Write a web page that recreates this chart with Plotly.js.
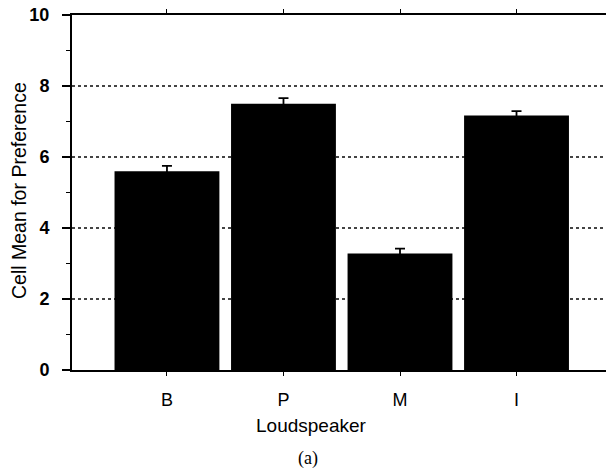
<!DOCTYPE html>
<html>
<head>
<meta charset="utf-8">
<script src="https://cdn.plot.ly/plotly-3.0.1.min.js"></script>
<style>
  html, body { margin: 0; padding: 0; background: #fff; }
  #chart { width: 607px; height: 468px; }
</style>
</head>
<body>
<div id="chart"></div>
<script>
// Loudspeaker preference: cell means with standard-error bars
const speakers = ['B', 'P', 'M', 'I'];
const cellMeans = [5.6, 7.5, 3.28, 7.17];
const stdErrors = [0.15, 0.16, 0.14, 0.12];
const yTickValues = [0, 2, 4, 6, 8, 10];

const trace = {
  type: 'bar',
  x: speakers,
  y: cellMeans,
  width: 0.9,
  marker: { color: '#000', line: { width: 0 } },
  error_y: {
    type: 'data',
    array: stdErrors,
    visible: true,
    color: '#000',
    thickness: 1.8,
    width: 5
  },
  hoverinfo: 'none'
};

const sans = 'Liberation Sans, Arial, sans-serif';

// plot area in pixels, used to place the free-standing labels
const plotLeft = 72, plotWidth = 534, plotBottom = 370, plotHeight = 355;
const px = x => (x - plotLeft) / plotWidth;
const py = y => (plotBottom - y) / plotHeight;

const layout = {
  width: 607,
  height: 468,
  margin: { l: 72, r: 1, t: 15, b: 98 },
  paper_bgcolor: '#fff',
  plot_bgcolor: '#fff',
  showlegend: false,
  xaxis: {
    type: 'category',
    range: [-0.815, 3.768],
    showline: true,
    linecolor: '#000',
    linewidth: 2,
    mirror: 'ticks',
    ticks: 'outside',
    ticklen: 4,
    tickwidth: 1,
    tickcolor: '#000',
    ticklabelstandoff: 8,
    showgrid: false,
    zeroline: false,
    tickfont: { family: sans, size: 18, color: '#000' }
  },
  yaxis: {
    range: [0, 10],
    tickvals: yTickValues,
    ticktext: yTickValues.map(String),
    showline: true,
    linecolor: '#000',
    linewidth: 2,
    mirror: false,
    ticks: 'outside',
    ticklen: 8,
    tickwidth: 1.5,
    tickcolor: '#000',
    ticklabelstandoff: 9,
    minor: {
      dtick: 1,
      ticks: 'outside',
      ticklen: 4,
      tickwidth: 1,
      tickcolor: '#000',
      showgrid: false
    },
    showgrid: true,
    gridcolor: '#444',
    gridwidth: 1.2,
    griddash: 'dot',
    zeroline: false,
    tickfont: { family: sans, size: 18, color: '#000', weight: 'bold' }
  },
  annotations: [
    {
      text: 'Cell Mean for Preference',
      xref: 'paper', yref: 'paper',
      x: px(19), y: py(191),
      xanchor: 'center', yanchor: 'middle',
      textangle: -90,
      showarrow: false,
      font: { family: sans, size: 19.5, color: '#000' }
    },
    {
      text: 'Loudspeaker',
      xref: 'paper', yref: 'paper',
      x: px(311), y: py(425),
      xanchor: 'center', yanchor: 'middle',
      showarrow: false,
      font: { family: sans, size: 19, color: '#000' }
    },
    {
      text: '(a)',
      xref: 'paper', yref: 'paper',
      x: px(308), y: py(458),
      xanchor: 'center', yanchor: 'middle',
      showarrow: false,
      font: { family: 'Liberation Serif, Times New Roman, serif', size: 18, color: '#000' }
    }
  ]
};

Plotly.newPlot('chart', [trace], layout, { displayModeBar: false, staticPlot: true });
</script>
</body>
</html>
